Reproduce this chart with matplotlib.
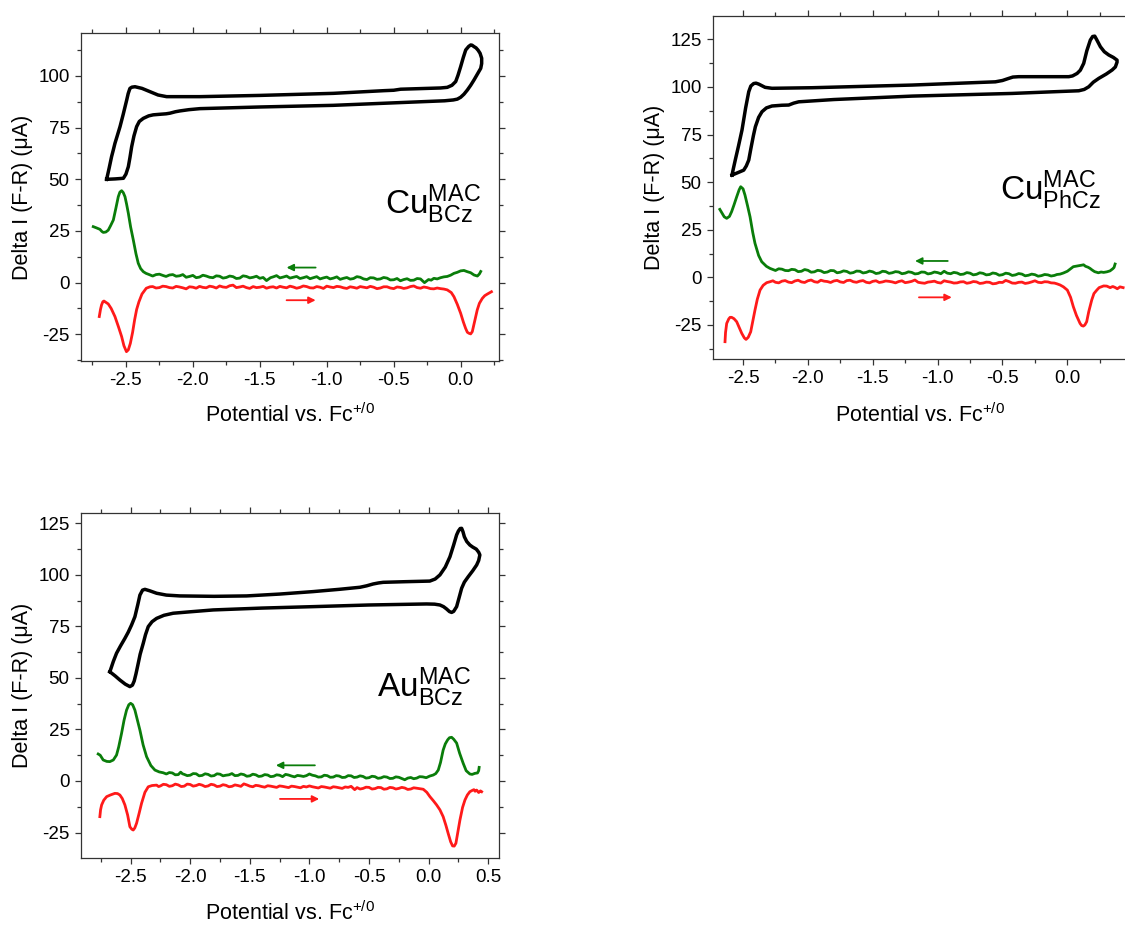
import matplotlib
matplotlib.use("Agg")
import matplotlib.pyplot as plt
import numpy as np
from matplotlib.ticker import MultipleLocator, FormatStrFormatter

plt.rcParams['font.family'] = ['Liberation Sans', 'DejaVu Sans']
plt.rcParams['mathtext.fontset'] = 'custom'
plt.rcParams['mathtext.rm'] = 'Liberation Sans'
plt.rcParams['mathtext.it'] = 'Liberation Sans:italic'
plt.rcParams['mathtext.bf'] = 'Liberation Sans:bold'
plt.rcParams['axes.unicode_minus'] = False

# ---- data (potential in V vs Fc, current in uA) ----
# Cu(MAC)BCz
cu_bcz_cv = [(-2.644, 50.0), (-2.58, 50.2), (-2.519, 50.5), (-2.50, 52.5), (-2.482, 56.1),
             (-2.47, 60.5), (-2.457, 65.8), (-2.44, 71.0), (-2.420, 75.5), (-2.40, 78.0),
             (-2.370, 79.5), (-2.33, 80.7), (-2.296, 81.2), (-2.24, 81.5), (-2.20, 81.7),
             (-2.171, 82.0), (-2.13, 82.7), (-2.096, 83.1), (-2.03, 83.7), (-1.947, 84.2),
             (-1.5, 85.0), (-0.951, 85.8), (-0.5, 87.0), (-0.12, 88.0), (-0.055, 88.4),
             (-0.025, 88.8), (0.0, 89.7), (0.025, 91.2), (0.05, 93.2), (0.075, 95.5),
             (0.100, 98.1), (0.125, 100.9), (0.150, 103.7), (0.157, 106.0), (0.157, 108.6),
             (0.145, 111.0), (0.130, 112.5), (0.115, 113.6), (0.100, 114.2), (0.085, 114.9),
             (0.075, 115.0), (0.06, 114.3), (0.038, 112.6), (0.02, 109.0), (0.0, 104.5),
             (-0.02, 100.3), (-0.037, 97.3), (-0.065, 95.5), (-0.100, 94.5), (-0.15, 94.2),
             (-0.448, 93.6), (-0.50, 93.1), (-0.572, 92.9), (-0.951, 91.6), (-1.5, 90.6),
             (-1.947, 90.0), (-2.196, 90.0), (-2.26, 90.8), (-2.320, 92.4), (-2.38, 94.0),
             (-2.432, 94.8), (-2.455, 94.6), (-2.47, 94.0), (-2.483, 91.5), (-2.494, 88.4),
             (-2.52, 81.5), (-2.544, 75.5), (-2.565, 71.0), (-2.582, 67.4), (-2.595, 64.0),
             (-2.607, 61.0), (-2.625, 55.5), (-2.644, 50.0)]
cu_bcz_rev = [(-2.744, 27.1), (-2.72, 26.5), (-2.694, 25.8), (-2.68, 24.8), (-2.669, 24.3),
              (-2.65, 24.5), (-2.632, 25.4), (-2.615, 27.5), (-2.594, 30.3), (-2.575, 36.0),
              (-2.557, 41.6), (-2.545, 43.8), (-2.532, 44.5), (-2.52, 43.6), (-2.507, 41.6),
              (-2.495, 38.0), (-2.482, 33.6), (-2.465, 27.0), (-2.445, 20.7), (-2.425, 14.0),
              (-2.408, 9.4), (-2.39, 6.8), (-2.370, 5.3), (-2.35, 4.5), (-2.33, 4.0), (-2.30, 3.2),
              (-2.275, 3.9), (-2.25, 4.1), (-2.22, 3.4), (-2.20, 3.0), (-2.175, 3.7), (-2.15, 3.9),
              (-2.125, 3.1), (-2.10, 3.3), (-2.075, 3.9), (-2.05, 2.6), (-2.025, 3.0), (-2.00, 3.5),
              (-1.975, 2.4), (-1.95, 2.7), (-1.925, 3.6), (-1.90, 3.2), (-1.875, 2.6), (-1.85, 2.4),
              (-1.825, 3.3), (-1.80, 3.1), (-1.775, 2.2), (-1.75, 2.5), (-1.725, 3.2), (-1.70, 2.9),
              (-1.675, 2.0), (-1.65, 2.2), (-1.625, 3.3), (-1.60, 3.0), (-1.575, 2.3), (-1.55, 2.6),
              (-1.525, 3.1), (-1.50, 2.1), (-1.475, 2.5), (-1.45, 1.0), (-1.42, 2.4), (-1.40, 2.8),
              (-1.375, 3.4), (-1.35, 2.3), (-1.325, 2.7), (-1.30, 3.2), (-1.275, 2.2), (-1.25, 2.6),
              (-1.225, 3.0), (-1.20, 2.0), (-1.175, 2.4), (-1.15, 2.9), (-1.125, 1.9), (-1.10, 2.4),
              (-1.075, 2.9), (-1.05, 1.8), (-1.025, 2.3), (-1.00, 2.7), (-0.975, 1.8), (-0.95, 2.2),
              (-0.925, 2.8), (-0.90, 1.6), (-0.875, 2.1), (-0.85, 2.5), (-0.825, 1.7), (-0.80, 2.0),
              (-0.775, 2.9), (-0.75, 2.6), (-0.725, 1.8), (-0.70, 1.5), (-0.675, 2.4), (-0.65, 2.3),
              (-0.625, 1.6), (-0.60, 1.8), (-0.575, 2.5), (-0.55, 2.2), (-0.525, 1.3), (-0.50, 1.4),
              (-0.475, 2.0), (-0.45, 0.9), (-0.425, 1.5), (-0.40, 1.9), (-0.375, 1.1), (-0.35, 1.2),
              (-0.325, 2.0), (-0.30, 1.8), (-0.27, 0.0), (-0.24, 1.5), (-0.22, 1.2), (-0.20, 2.1),
              (-0.175, 1.8), (-0.15, 2.4), (-0.125, 2.8), (-0.10, 3.0), (-0.075, 3.6), (-0.05, 4.5),
              (-0.025, 5.0), (0.0, 5.7), (0.025, 5.9), (0.05, 5.3), (0.075, 4.8), (0.10, 3.7),
              (0.125, 3.2), (0.14, 4.2), (0.15, 5.4)]
cu_bcz_fwd = [(-2.699, -16.4), (-2.69, -13.0), (-2.682, -10.8), (-2.672, -9.2), (-2.664, -8.9),
              (-2.65, -9.5), (-2.632, -10.3), (-2.61, -12.5), (-2.582, -16.4), (-2.555, -21.5),
              (-2.532, -26.1), (-2.515, -30.5), (-2.496, -33.4), (-2.482, -32.5), (-2.467, -29.4),
              (-2.45, -24.0), (-2.435, -18.0), (-2.42, -13.0), (-2.403, -9.3), (-2.38, -5.5),
              (-2.348, -2.7), (-2.32, -2.0), (-2.30, -1.9), (-2.275, -2.6), (-2.25, -2.4),
              (-2.225, -1.7), (-2.20, -1.9), (-2.175, -2.4), (-2.15, -2.6), (-2.125, -1.8),
              (-2.10, -2.1), (-2.075, -2.5), (-2.05, -3.0), (-2.025, -2.0), (-2.00, -2.2),
              (-1.975, -2.7), (-1.95, -1.8), (-1.925, -2.3), (-1.90, -2.5), (-1.875, -1.7),
              (-1.85, -2.0), (-1.825, -2.6), (-1.80, -1.6), (-1.775, -2.1), (-1.75, -2.3),
              (-1.725, -1.5), (-1.70, -1.2), (-1.675, -2.4), (-1.65, -2.1), (-1.625, -1.7),
              (-1.60, -2.4), (-1.575, -2.8), (-1.55, -1.9), (-1.525, -2.4), (-1.50, -2.2),
              (-1.475, -1.8), (-1.45, -2.7), (-1.425, -2.2), (-1.40, -2.0), (-1.375, -2.6),
              (-1.35, -1.8), (-1.325, -2.2), (-1.30, -2.5), (-1.275, -1.7), (-1.25, -2.1),
              (-1.225, -2.7), (-1.20, -2.3), (-1.175, -1.6), (-1.15, -1.9), (-1.125, -2.5),
              (-1.10, -2.6), (-1.075, -1.9), (-1.05, -2.2), (-1.025, -2.8), (-1.00, -1.7),
              (-0.975, -2.1), (-0.95, -2.4), (-0.925, -1.8), (-0.90, -2.0), (-0.875, -2.5),
              (-0.85, -2.8), (-0.825, -2.0), (-0.80, -2.3), (-0.775, -2.7), (-0.75, -1.9),
              (-0.725, -2.2), (-0.70, -2.5), (-0.675, -1.8), (-0.65, -2.2), (-0.625, -2.9),
              (-0.60, -2.6), (-0.575, -2.0), (-0.55, -2.0), (-0.525, -2.6), (-0.50, -2.9),
              (-0.475, -2.1), (-0.45, -2.3), (-0.425, -2.8), (-0.40, -2.5), (-0.375, -1.9),
              (-0.35, -1.6), (-0.325, -2.4), (-0.30, -2.7), (-0.275, -2.1), (-0.25, -2.4),
              (-0.225, -2.9), (-0.20, -3.0), (-0.175, -2.6), (-0.15, -2.9), (-0.125, -3.1),
              (-0.10, -3.5), (-0.07, -4.8), (-0.05, -6.8), (-0.025, -10.5), (0.0, -14.8),
              (0.02, -19.0), (0.037, -22.1), (0.05, -24.0), (0.062, -24.5), (0.075, -24.8),
              (0.087, -23.7), (0.105, -18.5), (0.124, -13.2), (0.14, -10.0), (0.162, -7.6),
              (0.18, -6.3), (0.20, -5.5), (0.23, -4.4)]

# Cu(MAC)PhCz
cu_phcz_cv = [(-2.585, 53.7), (-2.54, 55.0), (-2.495, 56.3), (-2.475, 58.5), (-2.456, 61.6),
              (-2.44, 67.5), (-2.42, 74.5), (-2.405, 79.1), (-2.38, 84.0), (-2.354, 87.0),
              (-2.32, 89.0), (-2.277, 90.0), (-2.20, 90.4), (-2.148, 90.5), (-2.11, 91.5),
              (-2.071, 92.2), (-1.8, 93.4), (-1.197, 95.2), (-0.426, 96.6), (-0.1, 97.5),
              (0.088, 98.0), (0.13, 98.7), (0.165, 100.1), (0.20, 102.5), (0.242, 104.5),
              (0.30, 106.8), (0.345, 108.9), (0.37, 110.5), (0.383, 113.0), (0.383, 114.1),
              (0.355, 115.5), (0.319, 116.8), (0.285, 118.5), (0.255, 121.1), (0.225, 125.0),
              (0.211, 126.7), (0.195, 126.5), (0.177, 124.6), (0.15, 119.0), (0.126, 112.4),
              (0.10, 108.8), (0.075, 107.1), (0.04, 105.8), (0.011, 105.4), (-0.375, 105.4),
              (-0.42, 105.2), (-0.452, 104.5), (-0.50, 103.4), (-0.555, 102.7), (-1.197, 101.0),
              (-1.968, 99.6), (-2.277, 99.3), (-2.33, 99.8), (-2.379, 101.5), (-2.40, 102.0),
              (-2.418, 101.8), (-2.44, 100.5), (-2.456, 97.5), (-2.48, 89.0), (-2.508, 77.4),
              (-2.535, 69.0), (-2.560, 61.6), (-2.575, 57.0), (-2.585, 53.7)]
cu_phcz_rev = [(-2.679, 35.7), (-2.66, 33.5), (-2.645, 31.8), (-2.626, 31.0), (-2.605, 32.0),
               (-2.588, 34.5), (-2.57, 38.0), (-2.549, 42.3), (-2.53, 46.0), (-2.518, 47.6),
               (-2.50, 46.5), (-2.485, 43.2), (-2.465, 37.5), (-2.446, 31.8), (-2.425, 23.5),
               (-2.408, 17.9), (-2.38, 11.5), (-2.356, 8.2), (-2.32, 5.8), (-2.292, 4.7),
               (-2.27, 4.1), (-2.25, 3.6), (-2.225, 4.5), (-2.20, 4.3), (-2.175, 3.6), (-2.15, 3.5),
               (-2.125, 4.2), (-2.10, 4.0), (-2.075, 3.0), (-2.05, 3.2), (-2.025, 4.1), (-2.00, 3.7),
               (-1.975, 2.7), (-1.95, 2.9), (-1.925, 3.7), (-1.90, 3.4), (-1.875, 2.5), (-1.85, 2.8),
               (-1.825, 3.6), (-1.80, 3.5), (-1.775, 2.4), (-1.75, 2.7), (-1.725, 3.4), (-1.70, 3.1),
               (-1.675, 2.2), (-1.65, 2.5), (-1.625, 3.3), (-1.60, 3.2), (-1.575, 2.3), (-1.55, 2.6),
               (-1.525, 3.3), (-1.50, 2.9), (-1.475, 2.0), (-1.45, 2.3), (-1.425, 3.2), (-1.40, 3.0),
               (-1.375, 2.1), (-1.35, 2.4), (-1.325, 3.0), (-1.30, 2.8), (-1.275, 1.9), (-1.25, 2.2),
               (-1.225, 2.9), (-1.20, 2.6), (-1.175, 1.8), (-1.15, 2.0), (-1.125, 2.8), (-1.10, 2.7),
               (-1.075, 1.8), (-1.05, 2.1), (-1.025, 2.8), (-1.00, 2.5), (-0.975, 1.9), (-0.95, 3.2),
               (-0.925, 2.2), (-0.90, 1.9), (-0.875, 2.6), (-0.85, 2.3), (-0.825, 1.5), (-0.80, 1.7),
               (-0.775, 2.5), (-0.75, 2.2), (-0.725, 1.3), (-0.70, 1.6), (-0.675, 2.4), (-0.65, 2.1),
               (-0.625, 1.3), (-0.60, 1.5), (-0.575, 2.3), (-0.55, 2.0), (-0.525, 1.1), (-0.50, 1.4),
               (-0.475, 2.2), (-0.45, 1.9), (-0.425, 1.0), (-0.40, 1.3), (-0.375, 2.0), (-0.35, 1.7),
               (-0.325, 0.8), (-0.30, 1.1), (-0.275, 1.7), (-0.25, 1.4), (-0.225, 0.6), (-0.20, 0.9),
               (-0.175, 1.5), (-0.15, 1.3), (-0.125, 0.7), (-0.10, 1.0), (-0.08, 1.5), (-0.056, 1.7),
               (-0.03, 2.3), (0.0, 3.2), (0.025, 4.5), (0.046, 5.6), (0.08, 6.0), (0.111, 6.4),
               (0.125, 6.6), (0.14, 5.8), (0.16, 5.3), (0.175, 4.7), (0.19, 3.9), (0.21, 3.0),
               (0.239, 2.4), (0.26, 2.8), (0.28, 2.6), (0.305, 2.9), (0.329, 3.4), (0.35, 4.5),
               (0.36, 5.2), (0.368, 7.0)]
cu_phcz_fwd = [(-2.639, -33.8), (-2.635, -29.0), (-2.626, -24.2), (-2.61, -21.8), (-2.60, -21.0),
               (-2.588, -21.0), (-2.57, -21.7), (-2.549, -23.3), (-2.53, -26.3), (-2.510, -29.4),
               (-2.49, -31.8), (-2.477, -32.6), (-2.46, -31.5), (-2.441, -28.6), (-2.425, -23.0),
               (-2.408, -17.2), (-2.39, -11.5), (-2.369, -6.7), (-2.345, -4.2), (-2.318, -2.8),
               (-2.292, -2.3), (-2.27, -1.8), (-2.25, -2.6), (-2.225, -2.9), (-2.20, -2.0),
               (-2.175, -1.7), (-2.15, -2.5), (-2.125, -2.8), (-2.10, -1.9), (-2.075, -1.5),
               (-2.05, -2.4), (-2.025, -2.7), (-2.00, -1.8), (-1.975, -1.4), (-1.95, -2.3),
               (-1.925, -2.6), (-1.90, -1.5), (-1.875, -2.0), (-1.85, -2.2), (-1.825, -2.7),
               (-1.80, -1.9), (-1.775, -1.6), (-1.75, -2.4), (-1.725, -2.7), (-1.70, -1.7),
               (-1.675, -1.5), (-1.65, -2.3), (-1.625, -2.6), (-1.60, -2.0), (-1.575, -1.7),
               (-1.55, -2.6), (-1.525, -2.9), (-1.50, -2.1), (-1.475, -1.8), (-1.45, -2.7),
               (-1.425, -2.4), (-1.40, -1.9), (-1.375, -2.1), (-1.35, -2.4), (-1.325, -2.9),
               (-1.30, -2.2), (-1.275, -1.8), (-1.25, -2.8), (-1.225, -2.5), (-1.20, -2.1),
               (-1.175, -1.4), (-1.15, -2.6), (-1.125, -2.9), (-1.10, -3.1), (-1.075, -2.5),
               (-1.05, -2.3), (-1.025, -2.0), (-1.00, -2.7), (-0.975, -3.0), (-0.95, -1.8),
               (-0.925, -2.2), (-0.90, -2.5), (-0.875, -3.0), (-0.85, -2.9), (-0.825, -2.4),
               (-0.80, -2.3), (-0.775, -3.1), (-0.75, -2.8), (-0.725, -2.2), (-0.70, -2.4),
               (-0.675, -3.2), (-0.65, -3.0), (-0.625, -2.5), (-0.60, -2.6), (-0.575, -3.4),
               (-0.55, -3.2), (-0.525, -2.6), (-0.50, -2.7), (-0.475, -1.6), (-0.45, -2.2),
               (-0.425, -3.0), (-0.40, -3.1), (-0.375, -2.6), (-0.35, -2.5), (-0.325, -3.2),
               (-0.30, -2.9), (-0.275, -2.4), (-0.25, -1.8), (-0.225, -2.6), (-0.20, -2.8),
               (-0.175, -2.3), (-0.15, -2.4), (-0.125, -2.9), (-0.10, -3.0), (-0.08, -3.4),
               (-0.056, -4.0), (-0.03, -5.0), (0.0, -6.7), (0.025, -10.5), (0.046, -15.4),
               (0.07, -20.0), (0.098, -24.2), (0.11, -25.3), (0.123, -25.6), (0.135, -25.0),
               (0.149, -23.3), (0.165, -18.0), (0.188, -11.9), (0.205, -8.5), (0.227, -6.7),
               (0.245, -5.4), (0.26, -5.0), (0.28, -4.5), (0.304, -4.6), (0.33, -5.4),
               (0.35, -4.8), (0.368, -5.3), (0.385, -6.0), (0.406, -5.0), (0.43, -5.4)]

# Au(MAC)BCz
au_bcz_cv = [(-2.674, 53.0), (-2.63, 51.0), (-2.590, 49.0), (-2.545, 47.0), (-2.506, 45.8),
             (-2.485, 46.5), (-2.470, 48.5), (-2.455, 52.0), (-2.440, 56.0), (-2.42, 61.5),
             (-2.394, 66.8), (-2.375, 71.0), (-2.352, 74.9), (-2.32, 77.3), (-2.282, 78.9),
             (-2.22, 80.4), (-2.143, 81.4), (-2.0, 82.1), (-1.807, 83.0), (-1.4, 83.9),
             (-0.968, 84.6), (-0.5, 85.4), (-0.017, 85.9), (0.05, 85.8), (0.095, 85.4),
             (0.125, 84.6), (0.150, 83.5), (0.175, 82.2), (0.193, 81.8), (0.21, 82.3),
             (0.235, 84.6), (0.255, 88.8), (0.277, 93.5), (0.30, 96.5), (0.332, 99.1),
             (0.37, 102.0), (0.403, 104.8), (0.42, 107.0), (0.430, 109.7), (0.42, 111.0),
             (0.400, 112.5), (0.37, 113.5), (0.346, 114.5), (0.32, 116.2), (0.300, 118.5),
             (0.288, 121.0), (0.277, 122.6), (0.265, 122.5), (0.250, 121.3), (0.235, 119.4),
             (0.21, 114.5), (0.179, 108.8), (0.14, 103.8), (0.095, 100.0), (0.055, 98.0),
             (0.010, 97.0), (-0.2, 96.7), (-0.381, 96.4), (-0.42, 96.1), (-0.465, 95.6),
             (-0.52, 94.7), (-0.576, 94.0), (-0.75, 93.0), (-0.968, 91.9), (-1.25, 90.7),
             (-1.527, 89.8), (-1.8, 89.6), (-2.086, 89.8), (-2.2, 90.2), (-2.282, 91.1),
             (-2.34, 92.3), (-2.380, 93.0), (-2.40, 92.6), (-2.422, 90.2), (-2.44, 85.5),
             (-2.464, 79.7), (-2.492, 75.7), (-2.52, 72.2), (-2.548, 69.2), (-2.585, 65.5),
             (-2.618, 62.0), (-2.645, 58.0), (-2.674, 53.0)]
au_bcz_rev = [(-2.772, 13.1), (-2.755, 12.5), (-2.730, 10.2), (-2.70, 9.5), (-2.674, 9.4),
              (-2.645, 10.2), (-2.618, 12.6), (-2.60, 16.5), (-2.576, 23.1), (-2.555, 29.5),
              (-2.534, 34.4), (-2.515, 37.0), (-2.500, 37.7), (-2.483, 37.0), (-2.464, 34.4),
              (-2.445, 30.0), (-2.422, 24.7), (-2.395, 17.5), (-2.366, 11.8), (-2.33, 7.5),
              (-2.296, 5.3), (-2.26, 4.4), (-2.227, 4.0), (-2.20, 3.4), (-2.175, 4.1), (-2.15, 3.9),
              (-2.125, 3.0), (-2.10, 3.1), (-2.08, 4.3), (-2.065, 3.5), (-2.05, 3.2), (-2.025, 2.6),
              (-2.00, 2.8), (-1.975, 3.6), (-1.95, 3.5), (-1.925, 2.5), (-1.90, 2.7), (-1.875, 3.5),
              (-1.85, 3.2), (-1.825, 2.4), (-1.80, 2.6), (-1.775, 3.5), (-1.75, 3.3), (-1.725, 2.5),
              (-1.70, 2.8), (-1.675, 3.0), (-1.65, 3.6), (-1.625, 2.6), (-1.60, 2.7), (-1.575, 3.4),
              (-1.55, 3.1), (-1.525, 2.3), (-1.50, 2.5), (-1.475, 3.3), (-1.45, 3.0), (-1.425, 2.2),
              (-1.40, 2.4), (-1.375, 3.1), (-1.35, 2.9), (-1.325, 2.1), (-1.30, 2.3), (-1.275, 3.0),
              (-1.25, 2.8), (-1.225, 2.1), (-1.20, 3.2), (-1.175, 2.9), (-1.15, 2.4), (-1.125, 2.0),
              (-1.10, 2.7), (-1.075, 2.5), (-1.05, 2.2), (-1.025, 2.6), (-1.00, 3.4), (-0.975, 2.8),
              (-0.95, 2.5), (-0.925, 1.9), (-0.90, 2.0), (-0.875, 2.8), (-0.85, 2.6), (-0.825, 1.8),
              (-0.80, 1.9), (-0.775, 2.6), (-0.75, 2.4), (-0.725, 1.7), (-0.70, 1.8), (-0.675, 2.6),
              (-0.65, 2.5), (-0.625, 1.7), (-0.60, 1.9), (-0.575, 2.5), (-0.55, 2.2), (-0.525, 1.4),
              (-0.50, 1.6), (-0.475, 2.3), (-0.45, 2.1), (-0.425, 1.3), (-0.40, 1.5), (-0.375, 2.1),
              (-0.35, 1.9), (-0.325, 1.2), (-0.30, 1.3), (-0.275, 2.0), (-0.25, 1.8), (-0.225, 1.2),
              (-0.20, 0.6), (-0.175, 1.4), (-0.15, 1.7), (-0.125, 1.1), (-0.10, 1.4), (-0.075, 2.1),
              (-0.05, 2.0), (-0.02, 1.6), (0.01, 2.4), (0.039, 2.9), (0.06, 3.6), (0.081, 5.3),
              (0.10, 9.0), (0.122, 15.0), (0.14, 18.0), (0.160, 20.0), (0.175, 21.0), (0.193, 21.2),
              (0.21, 20.3), (0.235, 18.4), (0.26, 13.5), (0.290, 8.6), (0.315, 5.0), (0.346, 3.4),
              (0.365, 3.2), (0.388, 3.7), (0.41, 3.9), (0.42, 5.0), (0.424, 6.6)]
au_bcz_fwd = [(-2.758, -17.3), (-2.752, -14.0), (-2.743, -11.6), (-2.725, -9.3), (-2.701, -7.6),
              (-2.67, -6.8), (-2.632, -6.0), (-2.61, -6.1), (-2.590, -6.8), (-2.57, -8.5),
              (-2.548, -11.6), (-2.525, -16.5), (-2.506, -22.2), (-2.49, -23.4), (-2.478, -23.8),
              (-2.465, -22.8), (-2.450, -20.5), (-2.43, -16.0), (-2.408, -10.8), (-2.38, -5.5),
              (-2.352, -2.8), (-2.32, -2.2), (-2.282, -2.0), (-2.265, -2.7), (-2.25, -2.4),
              (-2.225, -1.6), (-2.20, -1.8), (-2.175, -2.6), (-2.15, -2.3), (-2.125, -1.5),
              (-2.10, -1.9), (-2.075, -2.7), (-2.05, -2.5), (-2.025, -1.5), (-2.00, -1.7),
              (-1.975, -2.5), (-1.95, -2.2), (-1.925, -1.6), (-1.90, -2.0), (-1.875, -2.7),
              (-1.85, -2.4), (-1.825, -1.6), (-1.80, -1.9), (-1.775, -2.7), (-1.75, -2.5),
              (-1.725, -1.8), (-1.70, -2.1), (-1.675, -2.8), (-1.65, -2.6), (-1.625, -1.9),
              (-1.60, -2.2), (-1.575, -2.6), (-1.55, -1.4), (-1.525, -1.9), (-1.50, -2.5),
              (-1.475, -2.8), (-1.45, -2.1), (-1.425, -2.3), (-1.40, -2.7), (-1.375, -3.0),
              (-1.35, -2.3), (-1.325, -2.5), (-1.30, -2.8), (-1.275, -3.1), (-1.25, -2.4),
              (-1.225, -2.6), (-1.20, -2.9), (-1.175, -3.2), (-1.15, -2.5), (-1.125, -2.7),
              (-1.10, -3.0), (-1.075, -3.3), (-1.05, -2.6), (-1.025, -2.9), (-1.00, -2.4),
              (-0.975, -2.8), (-0.95, -3.1), (-0.925, -3.4), (-0.90, -2.7), (-0.875, -2.9),
              (-0.85, -3.2), (-0.825, -3.5), (-0.80, -2.8), (-0.775, -3.0), (-0.75, -3.3),
              (-0.725, -3.6), (-0.70, -2.9), (-0.675, -3.1), (-0.65, -2.6), (-0.62, -4.2),
              (-0.60, -3.2), (-0.575, -3.9), (-0.55, -3.6), (-0.525, -3.0), (-0.50, -3.1),
              (-0.475, -3.9), (-0.45, -3.7), (-0.425, -3.1), (-0.40, -3.2), (-0.375, -4.0),
              (-0.35, -3.8), (-0.325, -3.1), (-0.30, -3.3), (-0.275, -3.9), (-0.25, -3.6),
              (-0.225, -3.1), (-0.20, -3.4), (-0.175, -4.1), (-0.15, -3.9), (-0.125, -3.3),
              (-0.10, -3.5), (-0.07, -3.8), (-0.045, -4.0), (-0.015, -5.5), (0.011, -7.6),
              (0.04, -9.6), (0.067, -11.6), (0.095, -14.0), (0.122, -17.3), (0.145, -21.5),
              (0.164, -25.4), (0.185, -29.5), (0.201, -31.5), (0.215, -31.6), (0.229, -30.2),
              (0.245, -25.0), (0.263, -18.9), (0.285, -12.8), (0.305, -9.2), (0.325, -6.8),
              (0.346, -5.2), (0.365, -4.6), (0.38, -4.2), (0.39, -5.0), (0.403, -4.4),
              (0.42, -5.6), (0.435, -4.8), (0.445, -5.2)]

labels = [r'$\mathrm{Cu}^{\mathrm{MAC}}_{\mathrm{BCz}}$',
          r'$\mathrm{Cu}^{\mathrm{MAC}}_{\mathrm{PhCz}}$',
          r'$\mathrm{Au}^{\mathrm{MAC}}_{\mathrm{BCz}}$']

panels = [
    dict(pos=[0.0717, 0.6106, 0.3718, 0.3538], xlim=(-2.838, 0.286), ylim=(-37.9, 120.8),
         cv=cu_bcz_cv, rev=cu_bcz_rev, fwd=cu_bcz_fwd, label=labels[0], lab_xy=(-0.21, 38),
         garrow=(-1.083, -1.30, 7.3), rarrow=(-1.30, -1.083, -8.5), yticks=[-25, 0, 25, 50, 75, 100]),
    dict(pos=[0.6335, 0.6127, 0.3683, 0.3703], xlim=(-2.734, 0.46), ylim=(-42.9, 137.4),
         cv=cu_phcz_cv, rev=cu_phcz_rev, fwd=cu_phcz_fwd, label=labels[1], lab_xy=(-0.13, 45.8),
         garrow=(-0.922, -1.174, 8.6), rarrow=(-1.144, -0.891, -10.5), yticks=[-25, 0, 25, 50, 75, 100, 125]),
    dict(pos=[0.0717, 0.0748, 0.3718, 0.3715], xlim=(-2.919, 0.59), ylim=(-37.2, 129.9),
         cv=au_bcz_cv, rev=au_bcz_rev, fwd=au_bcz_fwd, label=labels[2], lab_xy=(-0.04, 45.4),
         garrow=(-0.954, -1.281, 7.6), rarrow=(-1.247, -0.918, -8.7), yticks=[-25, 0, 25, 50, 75, 100, 125]),
]

green = '#0a7d0a'
red = '#ff1a1a'

fig = plt.figure(figsize=(11.25, 9.27), dpi=100)

for p in panels:
    ax = fig.add_axes(p['pos'])
    cv = np.array(p['cv'])
    rev = np.array(p['rev'])
    fwd = np.array(p['fwd'])
    ax.plot(cv[:, 0], cv[:, 1], color='black', lw=2.5, solid_joinstyle='round')
    ax.plot(rev[:, 0], rev[:, 1], color=green, lw=2.0, solid_joinstyle='round')
    ax.plot(fwd[:, 0], fwd[:, 1], color=red, lw=2.0, solid_joinstyle='round')

    x0, x1, y = p['garrow']
    ax.annotate('', xy=(x1, y), xytext=(x0, y),
                arrowprops=dict(arrowstyle='-|>', color=green, lw=1.3, mutation_scale=10,
                                shrinkA=0, shrinkB=0))
    x0, x1, y = p['rarrow']
    ax.annotate('', xy=(x1, y), xytext=(x0, y),
                arrowprops=dict(arrowstyle='-|>', color=red, lw=1.3, mutation_scale=10,
                                shrinkA=0, shrinkB=0))

    ax.text(p['lab_xy'][0], p['lab_xy'][1], p['label'], fontsize=24, ha='center', va='center')

    ax.set_xlim(*p['xlim'])
    ax.set_ylim(*p['ylim'])
    ax.xaxis.set_major_locator(MultipleLocator(0.5))
    ax.xaxis.set_minor_locator(MultipleLocator(0.25))
    ax.set_yticks(p['yticks'])
    ax.yaxis.set_minor_locator(MultipleLocator(12.5))
    ax.xaxis.set_major_formatter(FormatStrFormatter('%.1f'))
    ax.tick_params(which='both', direction='out', top=True, right=True, width=0.9,
                   labelsize=13.5, color='#333333')
    ax.tick_params(which='major', length=4.5)
    ax.tick_params(which='minor', length=3)
    for s in ax.spines.values():
        s.set_linewidth(0.9)
        s.set_color('#333333')

    ax.set_xlabel(r'Potential vs. Fc$^{\mathrm{+/0}}$', fontsize=15.5)
    ax.set_ylabel('Delta I (F-R) (μA)', fontsize=15.5)
    ax.xaxis.set_label_coords(0.5, -0.128)
    ax.yaxis.set_label_coords(-0.115, 0.5)

fig.savefig('out.png', dpi=100)
